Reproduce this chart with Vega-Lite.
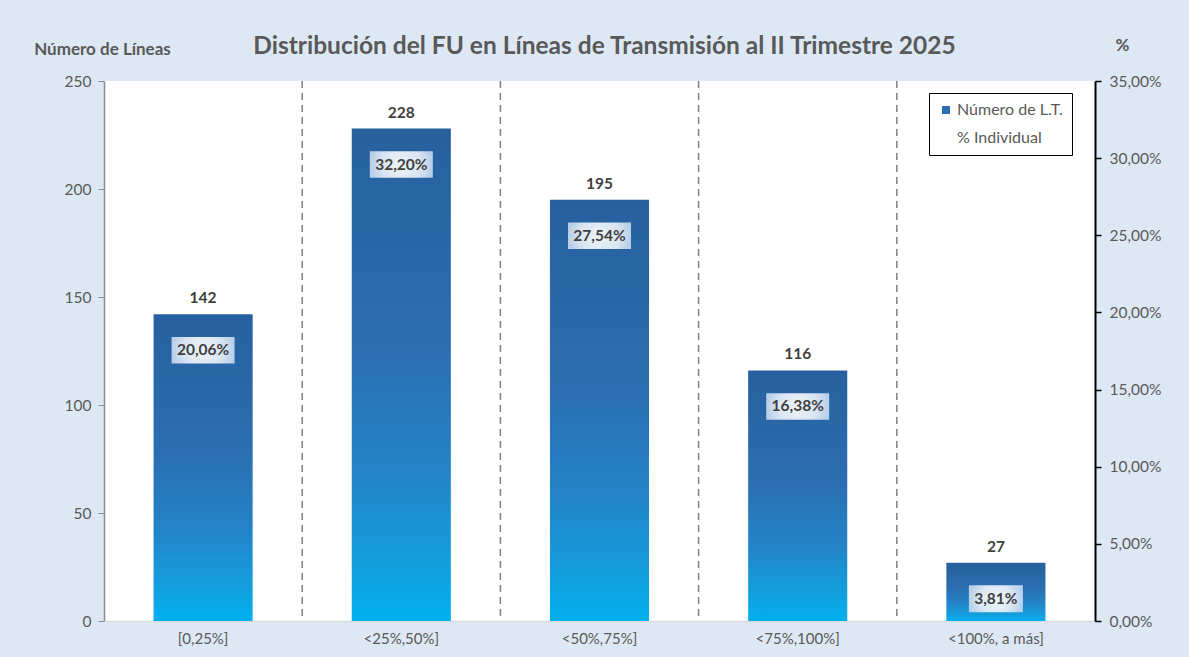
{
  "$schema": "https://vega.github.io/schema/vega-lite/v6.json",
  "width": 991,
  "height": 540,
  "autosize": {"type": "none"},
  "padding": {"left": 104, "top": 81, "right": 94, "bottom": 36},
  "background": "#dde8f4",
  "title": {
    "text": "Distribución del FU en Líneas de Transmisión al II Trimestre 2025",
    "font": "Lato",
    "fontSize": 24.5,
    "fontWeight": "bold",
    "color": "#595959",
    "anchor": "middle",
    "frame": "group",
    "offset": 20,
    "dx": 5,
    "dy": 43
  },
  "config": {
    "locale": {
      "number": {"decimal": ",", "thousands": ".", "grouping": [3], "currency": ["", " €"]}
    },
    "view": {"fill": "white", "stroke": null},
    "font": "Lato"
  },
  "datasets": {
    "main": [
      {"cat": "[0,25%]", "n": 142, "pct": 0.2006},
      {"cat": "<25%,50%]", "n": 228, "pct": 0.3220},
      {"cat": "<50%,75%]", "n": 195, "pct": 0.2754},
      {"cat": "<75%,100%]", "n": 116, "pct": 0.1638},
      {"cat": "<100%, a más]", "n": 27, "pct": 0.0381}
    ],
    "seps": [
      {"cat": "[0,25%]"},
      {"cat": "<25%,50%]"},
      {"cat": "<50%,75%]"},
      {"cat": "<75%,100%]"}
    ]
  },
  "encoding": {
    "x": {
      "field": "cat",
      "type": "nominal",
      "sort": null,
      "scale": {"type": "band", "paddingInner": 0, "paddingOuter": 0, "domain": ["[0,25%]", "<25%,50%]", "<50%,75%]", "<75%,100%]", "<100%, a más]"]},
      "axis": {
        "title": null,
        "labelAngle": 0,
        "labelFont": "Lato",
        "labelFontSize": 15,
        "labelColor": "#595959",
        "labelPadding": 10,
        "ticks": false,
        "domainColor": "#d9d9d9",
        "domainWidth": 1.5,
        "grid": false
      }
    }
  },
  "layer": [
    {
      "layer": [
        {
          "data": {"name": "seps"},
          "mark": {"type": "rule", "color": "#7f7f7f", "strokeDash": [7, 5], "strokeWidth": 1.5},
          "encoding": {
            "x": {"field": "cat", "type": "nominal", "bandPosition": 1}
          }
        },
        {
          "data": {"name": "main"},
          "mark": {
            "type": "bar",
            "width": {"band": 0.5},
            "fill": {
              "gradient": "linear",
              "x1": 0, "y1": 0, "x2": 0, "y2": 1,
              "stops": [
                {"offset": 0, "color": "#27609e"},
                {"offset": 0.45, "color": "#2b6fb1"},
                {"offset": 0.7, "color": "#2384c7"},
                {"offset": 0.88, "color": "#149ddd"},
                {"offset": 1, "color": "#02b0ef"}
              ]
            }
          },
          "encoding": {
            "y": {
              "field": "n",
              "type": "quantitative",
              "scale": {"domain": [0, 250], "nice": false},
              "axis": {
                "title": "Número de Líneas",
                "titleAngle": 0,
                "titleX": -2,
                "titleY": -32,
                "titleAlign": "center",
                "titleBaseline": "middle",
                "titleFont": "Lato",
                "titleFontSize": 17,
                "titleFontWeight": "bold",
                "titleColor": "#595959",
                "values": [0, 50, 100, 150, 200, 250],
                "labelFont": "Lato",
                "labelFontSize": 15.5,
                "labelColor": "#595959",
                "labelPadding": 7,
                "tickColor": "#8c8c8c",
                "tickSize": 6,
                "domainColor": "#8c8c8c",
                "domainWidth": 1.5,
                "grid": false
              }
            }
          }
        },
        {
          "data": {"name": "main"},
          "mark": {"type": "text", "font": "Lato", "fontSize": 15.5, "fontWeight": "bold", "color": "#404040", "baseline": "alphabetic", "dy": -11},
          "encoding": {
            "y": {"field": "n", "type": "quantitative"},
            "text": {"field": "n", "type": "quantitative", "format": "d"}
          }
        },
        {
          "data": {"name": "main"},
          "mark": {
            "type": "point",
            "filled": true,
            "strokeWidth": 0,
            "yOffset": 36,
            "opacity": 0.92,
            "fill": {
              "gradient": "radial",
              "stops": [
                {"offset": 0, "color": "#ffffff"},
                {"offset": 0.6, "color": "#eaf1f9"},
                {"offset": 1, "color": "#c3d7ee"}
              ]
            }
          },
          "encoding": {
            "y": {"field": "n", "type": "quantitative"},
            "shape": {
              "condition": {"test": "datum.pct < 0.1", "value": "M-1,-0.5L1,-0.5L1,0.5L-1,0.5Z"},
              "value": "M-1,-0.42L1,-0.42L1,0.42L-1,0.42Z"
            },
            "size": {
              "condition": {"test": "datum.pct < 0.1", "value": 2916},
              "value": 3969
            }
          }
        },
        {
          "data": {"name": "main"},
          "mark": {"type": "text", "font": "Lato", "fontSize": 15.5, "fontWeight": "bold", "color": "#404040", "baseline": "middle", "dy": 36},
          "encoding": {
            "y": {"field": "n", "type": "quantitative"},
            "text": {"field": "pct", "type": "quantitative", "format": ".2%"}
          }
        }
      ]
    },
    {
      "data": {"name": "main"},
      "mark": {"type": "point", "filled": true, "opacity": 0},
      "encoding": {
        "y": {
          "field": "pct",
          "type": "quantitative",
          "scale": {"domain": [0, 0.35], "nice": false},
          "axis": {
            "orient": "right",
            "title": "%",
            "titleAngle": 0,
            "titleX": 27,
            "titleY": -36,
            "titleAlign": "center",
            "titleBaseline": "middle",
            "titleFont": "Lato",
            "titleFontSize": 17,
            "titleFontWeight": "bold",
            "titleColor": "#595959",
            "values": [0, 0.05, 0.1, 0.15, 0.2, 0.25, 0.3, 0.35],
            "format": ".2%",
            "labelFont": "Lato",
            "labelFontSize": 15.5,
            "labelColor": "#595959",
            "labelPadding": 8,
            "tickColor": "#000000",
            "tickSize": 6,
            "tickWidth": 1.5,
            "domainColor": "#000000",
            "domainWidth": 2,
            "grid": false
          }
        },
        "color": {
          "datum": "% Individual",
          "scale": {"domain": ["Número de L.T.", "% Individual"], "range": ["#2e6fb3", "rgba(0,0,0,0)"]},
          "legend": {
            "title": null,
            "orient": "none",
            "legendX": 825,
            "legendY": 12,
            "direction": "vertical",
            "symbolType": "square",
            "symbolSize": 64,
            "symbolOpacity": 1,
            "symbolStrokeWidth": 0,
            "labelFont": "Lato",
            "labelFontSize": 16,
            "labelColor": "#595959",
            "labelOffset": 3,
            "rowPadding": 12,
            "padding": 9,
            "strokeColor": "#000000",
            "fillColor": "#ffffff",
            "cornerRadius": 0
          }
        }
      }
    }
  ],
  "resolve": {"scale": {"y": "independent"}}
}
